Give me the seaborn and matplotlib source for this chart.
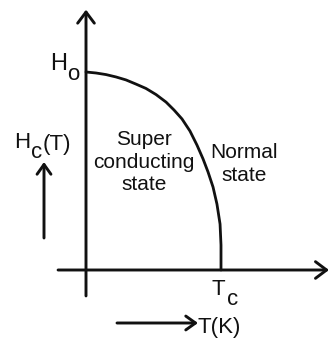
import seaborn as sns
import matplotlib.pyplot as plt

sns.set_style("white")
plt.rcParams['font.family'] = ['Liberation Sans', 'DejaVu Sans']

# critical field curve (T/Tc, H/Ho)
temp = [0.0, 0.074, 0.148, 0.222, 0.296, 0.370, 0.444, 0.519, 0.593, 0.652,
        0.711, 0.770, 0.822, 0.867, 0.904, 0.941, 0.970, 0.993, 1.0, 1.0]
field = [1.0, 0.995, 0.987, 0.975, 0.960, 0.939, 0.917, 0.886, 0.848, 0.808,
         0.763, 0.702, 0.631, 0.561, 0.495, 0.419, 0.333, 0.232, 0.126, 0.0]

W, H = 331, 339
ink = '#111111'

fig = plt.figure(figsize=(W / 100, H / 100), dpi=100)
ax = fig.add_axes([0, 0, 1, 1])
# origin at pixel (86, 270), Tc at 135 px, Ho at 198 px
ax.set_xlim(-86 / 135, (W - 86) / 135)
ax.set_ylim((270 - H) / 198, 270 / 198)
ax.axis('off')

sns.lineplot(x=temp, y=field, ax=ax, color=ink, lw=2.0,
             estimator=None, sort=False)

arrow = dict(arrowstyle='->,head_length=0.8,head_width=0.6', lw=2.1,
             color=ink, shrinkA=0, shrinkB=0)
# axes
ax.annotate('', xy=(0, 1.315), xytext=(0, -0.131), arrowprops=arrow)
ax.annotate('', xy=(1.80, 0), xytext=(-0.207, 0), arrowprops=arrow)


def txt(x, y, s, size=15, ha='left'):
    fig.text(x / W, 1 - y / H, s, fontsize=size, ha=ha, va='baseline', color=ink)


# H_o
txt(50, 70, 'H', 17)
txt(67, 80, 'o', 16)
# H_c(T) label with arrow
txt(14, 148, 'H', 16)
txt(31, 158, 'c', 16)
txt(43, 150, '(T)', 16)
small = dict(arrow, arrowstyle='->,head_length=0.7,head_width=0.5')
ax.annotate('', xy=(44 / W, 1 - 162 / H), xytext=(44 / W, 1 - 238 / H),
            xycoords='figure fraction', textcoords='figure fraction', arrowprops=small)
# region labels
txt(144, 145, 'Super', ha='center')
txt(144, 168, 'conducting', ha='center')
txt(144, 190, 'state', ha='center')
txt(244, 158, 'Normal', ha='center')
txt(244, 181, 'state', ha='center')
# T_c
txt(212, 295, 'T', 16)
txt(227, 305, 'c', 16)
# T(K) with arrow
ax.annotate('', xy=(198 / W, 1 - 323 / H), xytext=(117 / W, 1 - 323 / H),
            xycoords='figure fraction', textcoords='figure fraction', arrowprops=small)
txt(197, 333, 'T(K)', 16)

plt.savefig('out.png', dpi=100)
